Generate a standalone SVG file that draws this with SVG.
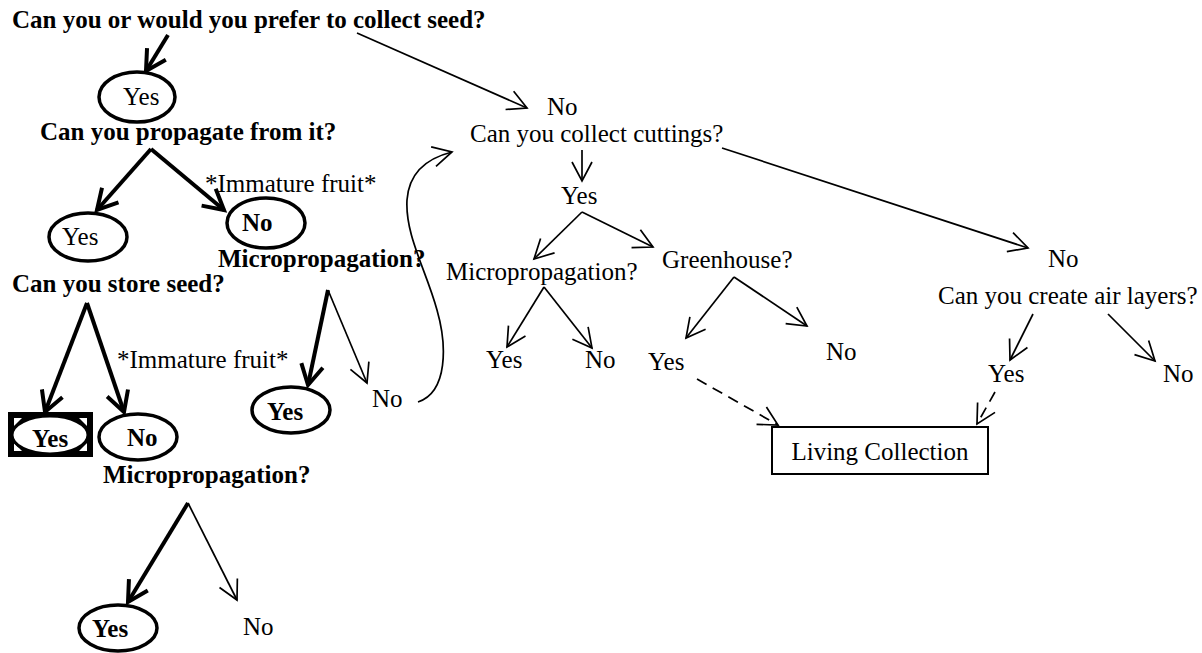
<svg xmlns="http://www.w3.org/2000/svg" width="1202" height="653" viewBox="0 0 1202 653">
  <style>
    text { font-family: "Liberation Serif", "Times New Roman", serif; font-size: 25px; fill: #000; }
    .b { font-weight: bold; }
    .thin { fill: none; stroke: #000; stroke-width: 1.7; }
    .thick { fill: none; stroke: #000; stroke-width: 4; }
    .dash { fill: none; stroke: #000; stroke-width: 1.7; stroke-dasharray: 11 7; }
    .oval { fill: #fff; stroke: #000; stroke-width: 3.5; }
  </style>
  <defs>
    <marker id="headThin" markerUnits="userSpaceOnUse" markerWidth="44" markerHeight="44" viewBox="-22 -22 44 44" refX="0" refY="0" orient="auto" overflow="visible">
      <path d="M-19,-10 L0,0 L-19,10" fill="none" stroke="#000" stroke-width="1.7"/>
    </marker>
    <marker id="headThick" markerUnits="userSpaceOnUse" markerWidth="44" markerHeight="44" viewBox="-22 -22 44 44" refX="0" refY="0" orient="auto" overflow="visible">
      <path d="M-20,-11 L0,0 L-20,11" fill="none" stroke="#000" stroke-width="4"/>
    </marker>
  </defs>

  <!-- connectors -->
  <g id="connectors">
    <!-- seed branch -->
    <line class="thick" x1="168" y1="35" x2="146" y2="71" marker-end="url(#headThick)"/>
    <line class="thin" x1="357" y1="33" x2="527" y2="108" marker-end="url(#headThin)"/>
    <line class="thick" x1="151" y1="149" x2="97" y2="210" marker-end="url(#headThick)"/>
    <line class="thick" x1="151" y1="149" x2="224" y2="210" marker-end="url(#headThick)"/>
    <line class="thick" x1="87" y1="303" x2="45" y2="412" marker-end="url(#headThick)"/>
    <line class="thick" x1="87" y1="303" x2="124" y2="412" marker-end="url(#headThick)"/>
    <line class="thick" x1="328" y1="290" x2="308" y2="385" marker-end="url(#headThick)"/>
    <line class="thin" x1="328" y1="290" x2="367" y2="383" marker-end="url(#headThin)"/>
    <line class="thick" x1="188" y1="503" x2="128" y2="602" marker-end="url(#headThick)"/>
    <line class="thin" x1="188" y1="503" x2="237" y2="600" marker-end="url(#headThin)"/>
    <path class="thin" d="M418,402 C448,392 447,345 437,310 C426,270 405,235 407,200 C409,172 428,158 452,152" marker-end="url(#headThin)"/>

    <!-- cuttings branch -->
    <line class="thin" x1="582" y1="150" x2="582" y2="181" marker-end="url(#headThin)"/>
    <line class="thin" x1="582" y1="212" x2="534" y2="259" marker-end="url(#headThin)"/>
    <line class="thin" x1="582" y1="212" x2="653" y2="247" marker-end="url(#headThin)"/>
    <line class="thin" x1="544" y1="287" x2="507" y2="347" marker-end="url(#headThin)"/>
    <line class="thin" x1="544" y1="287" x2="592" y2="348" marker-end="url(#headThin)"/>
    <line class="thin" x1="734" y1="277" x2="686" y2="338" marker-end="url(#headThin)"/>
    <line class="thin" x1="734" y1="277" x2="807" y2="326" marker-end="url(#headThin)"/>
    <line class="dash" x1="697" y1="379" x2="778" y2="425" marker-end="url(#headThin)"/>

    <!-- air layer branch -->
    <line class="thin" x1="722" y1="148" x2="1028" y2="248" marker-end="url(#headThin)"/>
    <line class="thin" x1="1033" y1="314" x2="1010" y2="360" marker-end="url(#headThin)"/>
    <line class="thin" x1="1108" y1="314" x2="1155" y2="361" marker-end="url(#headThin)"/>
    <line class="dash" x1="995" y1="392" x2="977" y2="424" marker-end="url(#headThin)"/>
  </g>

  <!-- seed questions -->
  <g id="q-collect-seed"><text class="b" x="12" y="28">Can you or would you prefer to collect seed?</text></g>
  <g id="seed-yes">
    <ellipse class="oval" cx="137" cy="97" rx="38" ry="25"/>
    <text x="123" y="105">Yes</text>
  </g>
  <g id="q-propagate"><text class="b" x="40" y="140">Can you propagate from it?</text></g>
  <g id="propagate-yes">
    <ellipse class="oval" cx="88" cy="237" rx="39" ry="24"/>
    <text x="62" y="245">Yes</text>
  </g>
  <g id="propagate-no">
    <ellipse class="oval" cx="266" cy="223" rx="39" ry="25"/>
    <text class="b" x="242" y="231">No</text>
  </g>
  <g id="note-fruit-1"><text x="205" y="192">*Immature fruit*</text></g>
  <g id="q-micro-1"><text class="b" x="218" y="267">Micropropagation?</text></g>
  <g id="micro-1-yes">
    <ellipse class="oval" cx="291" cy="410" rx="39" ry="23"/>
    <text class="b" x="267" y="420">Yes</text>
  </g>
  <g id="micro-1-no"><text x="372" y="407">No</text></g>

  <g id="q-store-seed"><text class="b" x="12" y="292">Can you store seed?</text></g>
  <g id="note-fruit-2"><text x="117" y="368">*Immature fruit*</text></g>
  <g id="store-yes">
    <rect x="8" y="412" width="85" height="45" fill="#000"/>
    <path d="M14,418 L22,418 L14,426 Z M87,418 L79,418 L87,426 Z M14,451 L22,451 L14,443 Z M87,451 L79,451 L87,443 Z" fill="#fff"/>
    <ellipse cx="50" cy="435" rx="38" ry="19" fill="#fff" stroke="#000" stroke-width="3"/>
    <text class="b" x="32" y="447">Yes</text>
  </g>
  <g id="store-no">
    <ellipse class="oval" cx="138" cy="437" rx="39" ry="23"/>
    <text class="b" x="127" y="446">No</text>
  </g>
  <g id="q-micro-2"><text class="b" x="103" y="483">Micropropagation?</text></g>
  <g id="micro-2-yes">
    <ellipse class="oval" cx="118" cy="628" rx="39" ry="23"/>
    <text class="b" x="92" y="637">Yes</text>
  </g>
  <g id="micro-2-no"><text x="243" y="635">No</text></g>

  <!-- cuttings -->
  <g id="q-cuttings">
    <text x="547" y="115">No</text>
    <text x="470" y="142">Can you collect cuttings?</text>
  </g>
  <g id="cuttings-yes"><text x="561" y="204">Yes</text></g>
  <g id="q-micro-3"><text x="446" y="280">Micropropagation?</text></g>
  <g id="micro-3-yes"><text x="486" y="368">Yes</text></g>
  <g id="micro-3-no"><text x="585" y="368">No</text></g>
  <g id="q-greenhouse"><text x="662" y="268">Greenhouse?</text></g>
  <g id="greenhouse-yes"><text x="648" y="370">Yes</text></g>
  <g id="greenhouse-no"><text x="826" y="360">No</text></g>

  <!-- air layers -->
  <g id="q-air-layers">
    <text x="1048" y="267">No</text>
    <text x="938" y="304">Can you create air layers?</text>
  </g>
  <g id="air-yes"><text x="988" y="382">Yes</text></g>
  <g id="air-no"><text x="1163" y="382">No</text></g>

  <g id="living-collection">
    <rect x="772" y="427" width="216" height="47" fill="#fff" stroke="#000" stroke-width="2"/>
    <text x="880" y="460" text-anchor="middle">Living Collection</text>
  </g>
</svg>
